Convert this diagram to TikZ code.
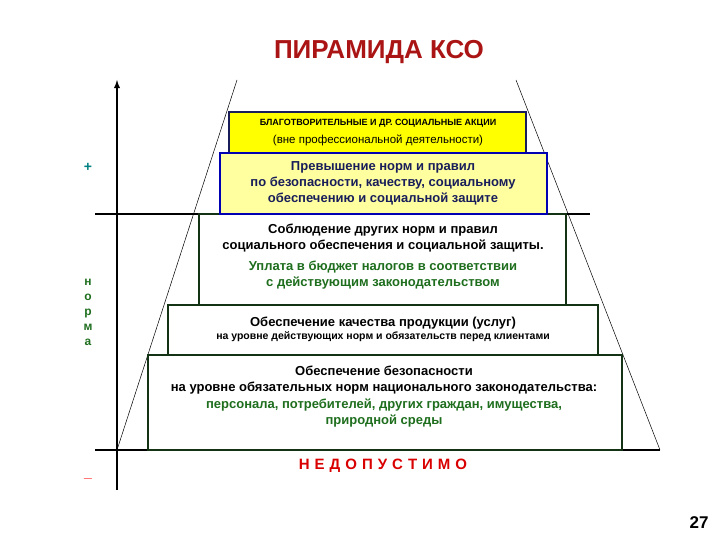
\documentclass[tikz,border=0pt]{standalone}
\usepackage{fontspec}
\setmainfont{Liberation Sans}
\definecolor{dgreen}{RGB}{20,50,20}
\definecolor{tgreen}{RGB}{30,110,30}
\definecolor{navy}{RGB}{25,30,90}
\definecolor{titlered}{RGB}{170,20,20}
\definecolor{yel}{RGB}{255,255,0}
\definecolor{lyel}{RGB}{255,255,160}
\begin{document}
\begin{tikzpicture}[x=1pt,y=-1pt,
 tier/.style={draw=dgreen,line width=2pt,fill=white,inner sep=0},
 lbl/.style={font=\bfseries\fontsize{13}{16}\selectfont,align=center}]
\useasboundingbox (0,0) rectangle (720,540);
\node[font=\bfseries\fontsize{26}{30}\selectfont,text=titlered] (t) at (379,52) {ПИРАМИДА КСО};
% pyramid sides
\coordinate (lt) at (237,80); \coordinate (lb) at (117,450);
\coordinate (rt) at (516,80); \coordinate (rb) at (660,450);
\draw[line width=0.5pt] (lt) -- (lb); \draw[line width=0.5pt] (rt) -- (rb);
% axes
\coordinate (a0) at (117,490); \coordinate (a1) at (117,80);
\draw[line width=1.8pt,-latex] (a0) -- (a1);
\coordinate (h1) at (95,214); \coordinate (h2) at (590,214);
\draw[line width=1.8pt] (h1) -- (h2);
\coordinate (g1) at (95,450); \coordinate (g2) at (660,450);
\draw[line width=1.8pt] (g1) -- (g2);
% boxes
\draw[tier] (148,355) rectangle (622,450);
\draw[tier] (168,305) rectangle (598,355);
\draw[tier] (199,214) rectangle (566,305);
\draw[draw=navy,line width=2pt,fill=yel] (229,112) rectangle (526,153);
\draw[draw=blue!70!black,line width=2pt,fill=lyel] (220,153) rectangle (547,214);
% texts
\node[font=\bfseries\fontsize{9}{10}\selectfont] (y1) at (378,123) {БЛАГОТВОРИТЕЛЬНЫЕ И ДР. СОЦИАЛЬНЫЕ АКЦИИ};
\node[font=\fontsize{11.5}{13}\selectfont] (y2) at (378,140) {(вне профессиональной деятельности)};
\node[lbl,text=navy] (b2) at (383,183) {Превышение норм и правил\\по безопасности, качеству, социальному\\обеспечению и социальной защите};
\node[lbl] (b3a) at (383,238) {Соблюдение других норм и правил\\социального обеспечения и социальной защиты.};
\node[lbl,text=tgreen] (b3b) at (383,275) {Уплата в бюджет налогов в соответствии\\с действующим законодательством};
\node[lbl] (b4a) at (383,323) {Обеспечение качества продукции (услуг)};
\node[font=\bfseries\fontsize{10.5}{12}\selectfont] (b4b) at (383,337) {на уровне действующих норм и обязательств перед клиентами};
\node[lbl] (b5a) at (384,380) {Обеспечение безопасности\\на уровне обязательных норм национального законодательства:};
\node[lbl,text=tgreen] (b5b) at (384,413) {персонала, потребителей, других граждан, имущества,\\природной среды};
\node[font=\bfseries\fontsize{15}{17}\selectfont,text=red!85!black] (n) at (383,466) {Н\,\,Е\,\,Д\,\,О\,\,П\,\,У\,\,С\,\,Т\,\,И\,\,М\,\,О};
\node[font=\bfseries\fontsize{14}{16}\selectfont,text=teal] (plus) at (88,167) {+};
\node[font=\bfseries\fontsize{12}{15}\selectfont,text=tgreen,align=center] (norm) at (88,312) {н\\о\\р\\м\\а};
\node[font=\bfseries\fontsize{14}{16}\selectfont,text=red] (minus) at (88,478) {\_};
\node[font=\bfseries\fontsize{17}{19}\selectfont] (pg) at (699,523) {27};
\end{tikzpicture}
\end{document}
